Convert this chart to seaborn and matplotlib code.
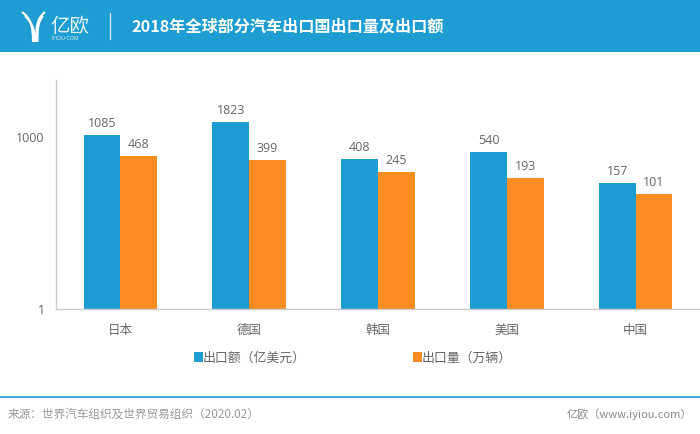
import pandas as pd
import seaborn as sns
import matplotlib.pyplot as plt
from matplotlib.patches import Rectangle, PathPatch, Patch
from matplotlib.path import Path

countries = ["日本", "德国", "韩国", "美国", "中国"]
export_value = [1085, 1823, 408, 540, 157]
export_volume = [468, 399, 245, 193, 101]
value_name = "出口额（亿美元）"
volume_name = "出口量（万辆）"
title = "2018年全球部分汽车出口国出口量及出口额"
source = "来源：世界汽车组织及世界贸易组织（2020.02）"
site = "亿欧（www.iyiou.com）"

BLUE = "#1e9dd3"
ORANGE = "#f98d22"
GREY = "#666666"
CJK = ["Noto Sans CJK SC", "DejaVu Sans"]
NUM = ["Open Sans", "Noto Sans CJK SC"]

sns.set_theme(style="white")
plt.rcParams["font.family"] = CJK

df = pd.DataFrame({
    "country": countries * 2,
    "amount": export_value + export_volume,
    "series": [value_name] * 5 + [volume_name] * 5,
})

fig = plt.figure(figsize=(7, 4.34), dpi=100)

# full figure layer in pixel coordinates for the header and footer
bg = fig.add_axes([0, 0, 1, 1])
bg.set_xlim(0, 700)
bg.set_ylim(434, 0)
bg.axis("off")

ax = fig.add_axes([56 / 700, (434 - 309) / 434, 644 / 700, 229 / 434])
# bars have to start at 1 on the log axis, a zero base does not get drawn
sns.barplot(data=df, x="country", y="amount", hue="series", ax=ax,
            palette=[BLUE, ORANGE], width=0.57, gap=0, saturation=1,
            log_scale=True, errorbar=None, bottom=1, legend=False, linewidth=0)
ax.set_ylim(1, 9750)
ax.set_xlim(-0.5, 4.5)
ax.set_yticks([1, 1000], labels=["1", "1000"])
ax.minorticks_off()
ax.set_xlabel("")
ax.set_ylabel("")
ax.tick_params(axis="x", length=0, pad=11, labelsize=9, labelcolor=GREY)
ax.tick_params(axis="y", length=0, pad=8, labelsize=9, labelcolor=GREY)
for lab in ax.get_yticklabels():
    lab.set_family(NUM)
for side in ["top", "right"]:
    ax.spines[side].set_visible(False)
for side in ["left", "bottom"]:
    ax.spines[side].set_color("#cccccc")
    ax.spines[side].set_linewidth(1.0)

for cont, vals in zip(ax.containers, [export_value, export_volume]):
    ax.bar_label(cont, labels=[str(v) for v in vals], padding=3.5, fontsize=9,
                 color=GREY, family=NUM)

handles = [Patch(facecolor=BLUE, lw=0), Patch(facecolor=ORANGE, lw=0)]
ax.legend(handles, [value_name, volume_name], ncol=2, frameon=False, fontsize=9.3,
          labelcolor=GREY, loc="center", bbox_to_anchor=(0.461, -0.2140),
          handlelength=0.7, handleheight=0.7, handletextpad=0.02, columnspacing=8.28)

# header band
bg.add_patch(Rectangle((0, 0), 700, 52, color=BLUE, lw=0))
bg.plot([110, 110], [13, 39], color="#ffffff", lw=0.9, alpha=0.85)
bg.text(131, 26, title, color="white", fontsize=11.6, fontweight="bold",
        va="center", ha="left")

# logo mark
for x0, x1, x2, x3, top in [(22, 30, 33, 33, 12), (25, 31, 35, 35, 16),
                            (45, 38, 36, 36, 12), (43, 38, 37.5, 37.5, 16)]:
    verts = [(x0, top), (x1, top + 6), (x2, top + 12), (x3, 42)]
    bg.add_patch(PathPatch(Path(verts, [Path.MOVETO, Path.CURVE4, Path.CURVE4, Path.CURVE4]),
                           fc="none", ec="white", lw=1.5))
bg.text(50, 26, "亿欧", color="white", fontsize=14, va="center", ha="left", alpha=0.9)
bg.text(51, 38, "IYIOU·COM", color="white", fontsize=3.8, va="center", ha="left",
        family=NUM, alpha=0.9)

# footer
bg.plot([0, 700], [396.5, 396.5], color=BLUE, lw=1.2)
bg.text(8, 414, source, color="#999999", fontsize=8.4, va="center", ha="left")
bg.text(692, 414, site, color="#888888", fontsize=8.0, va="center", ha="right")

fig.savefig("out.png", dpi=100)
